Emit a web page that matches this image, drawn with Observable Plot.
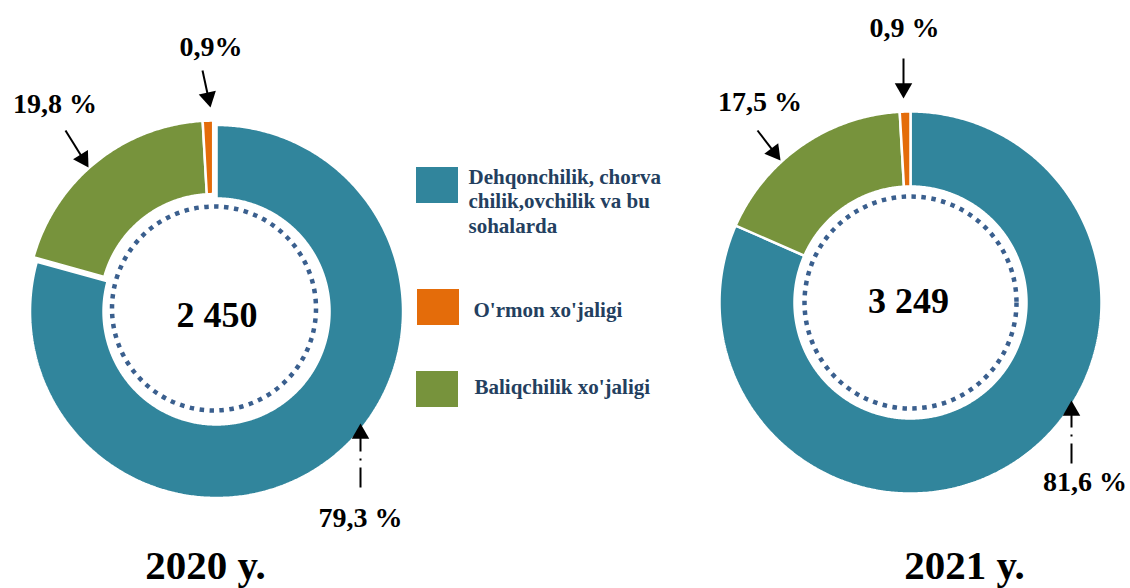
<!DOCTYPE html>
<html>
<head>
<meta charset="utf-8">
<script src="https://cdn.jsdelivr.net/npm/d3@7"></script>
<script src="https://cdn.jsdelivr.net/npm/@observablehq/plot@0.6"></script>
<style>
  html, body { margin: 0; padding: 0; background: #ffffff; }
  #chart svg { display: block; }
</style>
</head>
<body>
<div id="chart"></div>
<script>
// ---------------- DATA ----------------
const categories = [
  "Dehqonchilik, chorva chilik,ovchilik va bu sohalarda",
  "O'rmon xo'jaligi",
  "Baliqchilik xo'jaligi"
];
const legendLabels = [
  "Dehqonchilik, chorva\nchilik,ovchilik va bu\nsohalarda",
  "O'rmon xo'jaligi",
  "Baliqchilik xo'jaligi"
];
const colors = ["#31859C", "#E46C0A", "#77933C"];
const years = ["2020 y.", "2021 y."];
const totals = ["2 450", "3 249"];
// shares per category (same order as categories)
const shares2020 = [79.3, 0.9, 19.8];
const shares2021 = [81.6, 0.9, 17.5];
const pctLabels2020 = ["79,3 %", "0,9%", "19,8 %"];
const pctLabels2021 = ["81,6 %", "0,9 %", "17,5 %"];
// clockwise drawing order starting at 12 o'clock
const sliceOrder = [0, 2, 1];

// ---------------- LAYOUT ----------------
const W = 1130, H = 588;
const FONT = "'Liberation Serif', 'Times New Roman', serif";
const donutLayout = [
  {cx: 212.7, cy: 306.6, r0: 113, r1: 186.5, explode: [5.5, 0, 0], dotCx: 213.5, dotCy: 308, dotR: 102,
   totalX: 216.5, totalY: 326, yearX: 205, yearY: 578},
  {cx: 910, cy: 302, r0: 116, r1: 191, explode: [0, 0, 0], dotCx: 910, dotCy: 302, dotR: 106,
   totalX: 908, totalY: 312, yearX: 964, yearY: 578}
];
// annotation layout per donut, per category: label centre/baseline, arrow start and tip
const annotLayout = [
  [
    {tx: 360, ty: 526, sx: 360, sy: 487, ex: 360, ey: 423, dashed: true},
    {tx: 210.5, ty: 55, sx: 202, sy: 70, ex: 210, ey: 107, dashed: false},
    {tx: 54.5, ty: 112, sx: 65, sy: 130, ex: 88, ey: 167, dashed: false}
  ],
  [
    {tx: 1084.5, ty: 490, sx: 1071, sy: 463, ex: 1071, ey: 400, dashed: true},
    {tx: 904, ty: 36, sx: 903, sy: 58, ex: 903, ey: 98, dashed: false},
    {tx: 759.5, ty: 110, sx: 757, sy: 130, ex: 780, ey: 160, dashed: false}
  ]
];
const legendLayout = [
  {x1: 416, x2: 458, y1: 167, y2: 203, tx: 468, ty: 232},
  {x1: 417, x2: 459, y1: 289, y2: 325, tx: 473, ty: 316},
  {x1: 416, x2: 458, y1: 371, y2: 407, tx: 474, ty: 393}
];

// ---------------- GEOMETRY FROM DATA ----------------
const allShares = [shares2020, shares2021];
const allPct = [pctLabels2020, pctLabels2021];
const slicePts = [];
allShares.forEach((shares, di) => {
  const L = donutLayout[di];
  const total = d3.sum(shares);
  let acc = 0;
  sliceOrder.forEach(ci => {
    const a0 = acc / total * 2 * Math.PI;
    acc += shares[ci];
    const a1 = acc / total * 2 * Math.PI;
    const mid = (a0 + a1) / 2;
    const ex = L.explode[ci];
    const cx = L.cx + ex * Math.sin(mid), cy = L.cy - ex * Math.cos(mid);
    const n = Math.max(3, Math.ceil((a1 - a0) / (Math.PI / 360)));
    const key = di + "-" + ci;
    const pts = [];
    for (let k = 0; k <= n; k++) {
      const a = a0 + (a1 - a0) * k / n;
      pts.push({x: cx + L.r1 * Math.sin(a), y: cy - L.r1 * Math.cos(a)});
    }
    for (let k = n; k >= 0; k--) {
      const a = a0 + (a1 - a0) * k / n;
      pts.push({x: cx + L.r0 * Math.sin(a), y: cy - L.r0 * Math.cos(a)});
    }
    pts.push(pts[0]);
    pts.forEach(p => slicePts.push({...p, key, category: categories[ci]}));
  });
});

const HEAD_R = 6.5;
const arrows = [];
const pctTexts = [];
annotLayout.forEach((list, di) => {
  list.forEach((a, ci) => {
    const dx = a.ex - a.sx, dy = a.ey - a.sy;
    const len = Math.hypot(dx, dy);
    const ux = dx / len, uy = dy / len;
    arrows.push({
      x1: a.sx, y1: a.sy,
      x2: a.ex - ux * HEAD_R * 1.9, y2: a.ey - uy * HEAD_R * 1.9,
      hx: a.ex - ux * HEAD_R * 1.555, hy: a.ey - uy * HEAD_R * 1.555,
      rot: Math.atan2(ux, -uy) * 180 / Math.PI,
      dashed: a.dashed
    });
    pctTexts.push({x: a.tx, y: a.ty, text: allPct[di][ci]});
  });
});

const centerTexts = donutLayout.map((L, i) => ({x: L.totalX, y: L.totalY, text: totals[i]}));
const yearTexts = donutLayout.map((L, i) => ({x: L.yearX, y: L.yearY, text: years[i]}));
const legendData = legendLayout.map((l, i) => ({...l, category: categories[i], label: legendLabels[i]}));

// ---------------- PLOT ----------------
const chart = Plot.plot({
  width: W,
  height: H,
  margin: 0,
  x: {domain: [0, W], range: [0, W], axis: null},
  y: {domain: [0, H], range: [0, H], axis: null},
  color: {domain: categories, range: colors},
  marks: [
    Plot.line(slicePts, {x: "x", y: "y", z: "key", fill: "category", stroke: "white", strokeWidth: 2.5, strokeLinejoin: "miter", curve: "linear"}),
    Plot.dot([donutLayout[0]], {x: "dotCx", y: "dotCy", r: donutLayout[0].dotR, fill: "none", stroke: "#3A5F8E", strokeWidth: 4.5, strokeDasharray: "4.5,5.5"}),
    Plot.dot([donutLayout[1]], {x: "dotCx", y: "dotCy", r: donutLayout[1].dotR, fill: "none", stroke: "#3A5F8E", strokeWidth: 4.5, strokeDasharray: "4.5,5.5"}),
    Plot.link(arrows.filter(a => !a.dashed), {x1: "x1", y1: "y1", x2: "x2", y2: "y2", stroke: "black", strokeWidth: 2}),
    Plot.link(arrows.filter(a => a.dashed), {x1: "x1", y1: "y1", x2: "x2", y2: "y2", stroke: "black", strokeWidth: 2, strokeDasharray: "20,7,2,7"}),
    Plot.dot(arrows, {x: "hx", y: "hy", symbol: "triangle", r: HEAD_R, fill: "black", stroke: "none", rotate: "rot"}),
    Plot.text(pctTexts, {x: "x", y: "y", text: "text", fontSize: 28, fontWeight: "bold", fontFamily: FONT, fill: "black", textAnchor: "middle", lineAnchor: "bottom"}),
    Plot.text(centerTexts, {x: "x", y: "y", text: "text", fontSize: 36, fontWeight: "bold", fontFamily: FONT, fill: "black", textAnchor: "middle", lineAnchor: "bottom"}),
    Plot.text(yearTexts, {x: "x", y: "y", text: "text", fontSize: 41, fontWeight: "bold", fontFamily: FONT, fill: "black", textAnchor: "middle", lineAnchor: "bottom"}),
    Plot.rect(legendData, {x1: "x1", x2: "x2", y1: "y1", y2: "y2", fill: "category"}),
    Plot.text(legendData, {x: "tx", y: "ty", text: "label", fontSize: 21, fontWeight: "bold", fontFamily: FONT, fill: "#243F60", textAnchor: "start", lineAnchor: "bottom", lineHeight: 1.167})
  ]
});
document.getElementById("chart").appendChild(chart);
</script>
</body>
</html>
